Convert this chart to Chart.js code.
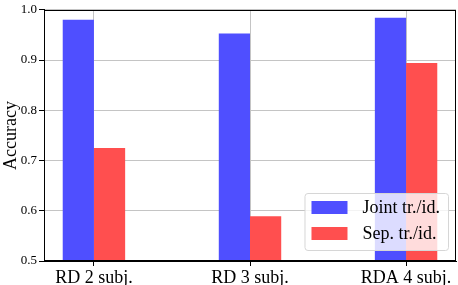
<!DOCTYPE html>
<html>
<head>
<meta charset="utf-8">
<script src="https://cdn.jsdelivr.net/npm/chart.js@4/dist/chart.umd.min.js"></script>
<style>
  html, body { margin: 0; padding: 0; background: #ffffff; }
  #wrap { position: relative; width: 458px; height: 285px; }
</style>
</head>
<body>
<div id="wrap"><canvas id="c" width="458" height="285"></canvas></div>
<script>
const categories = ["RD 2 subj.", "RD 3 subj.", "RDA 4 subj."];
const seriesNames = ["Joint tr./id.", "Sep. tr./id."];
const jointValues = [0.980, 0.953, 0.984];
const sepValues = [0.725, 0.589, 0.894];
const yTicks = [0.5, 0.6, 0.7, 0.8, 0.9, 1.0];

const SERIF = "'Liberation Serif', 'DejaVu Serif', serif";

const toPoints = (vals) => vals.map((v, i) => ({ x: i, y: v }));

const frameAndLegend = {
  id: 'frameAndLegend',
  afterDraw(chart) {
    const ctx = chart.ctx;
    const a = chart.chartArea;
    ctx.save();
    // frame (spines)
    ctx.strokeStyle = '#000000';
    ctx.lineWidth = 1;
    ctx.strokeRect(Math.round(a.left) + 0.5, Math.round(a.top) + 0.5,
                   Math.round(a.right - a.left) - 1, Math.round(a.bottom - a.top) - 1);
    // legend in lower right
    ctx.font = "18px " + SERIF;
    const items = chart.data.datasets;
    let tw = 0;
    items.forEach(d => { tw = Math.max(tw, ctx.measureText(d.label).width); });
    const padL = 7, sw = 36, sh = 13, gap = 15, padR = 8, rowH = 26, padT = 8;
    const w = padL + sw + gap + tw + padR;
    const h = padT + rowH * items.length - 3;
    const x = a.right - 8 - w;
    const y = a.bottom - 11 - h;
    ctx.beginPath();
    ctx.roundRect(x + 0.5, y + 0.5, w, h, 3);
    ctx.fillStyle = 'rgba(255,255,255,0.8)';
    ctx.fill();
    ctx.strokeStyle = '#d6d6d6';
    ctx.lineWidth = 1;
    ctx.stroke();
    ctx.textBaseline = 'middle';
    ctx.textAlign = 'left';
    items.forEach((d, i) => {
      const cy = y + padT + sh / 2 + i * rowH;
      ctx.fillStyle = d.backgroundColor;
      ctx.fillRect(x + padL, cy - sh / 2, sw, sh);
      ctx.fillStyle = '#000000';
      ctx.fillText(d.label, x + padL + sw + gap, cy + 1);
    });
    ctx.restore();
  }
};

new Chart(document.getElementById('c'), {
  type: 'bar',
  data: {
    datasets: [
      { label: seriesNames[0], data: toPoints(jointValues), backgroundColor: '#4f4fff' },
      { label: seriesNames[1], data: toPoints(sepValues), backgroundColor: '#ff4f4f' }
    ]
  },
  options: {
    responsive: false,
    animation: false,
    devicePixelRatio: 1,
    layout: { padding: { top: 5, right: 2, left: 0, bottom: 0 } },
    datasets: { bar: { categoryPercentage: 0.4, barPercentage: 1.0, clip: 0 } },
    plugins: { legend: { display: false }, tooltip: { enabled: false } },
    scales: {
      x: {
        type: 'linear',
        min: -0.32,
        max: 2.32,
        offset: false,
        z: 1,
        afterBuildTicks: (s) => { s.ticks = categories.map((_, i) => ({ value: i })); },
        afterFit: (s) => { s.height = 24; },
        ticks: {
          callback: (v) => categories[v],
          color: '#000000',
          font: { family: SERIF, size: 18 },
          padding: 1,
          maxRotation: 0,
          autoSkip: false
        },
        grid: { offset: false, color: '#c4c4c4', lineWidth: 1, tickColor: '#000000', tickLength: 5 },
        border: { display: true, color: '#000000' }
      },
      y: {
        min: 0.5,
        max: 1.0,
        z: 1,
        afterBuildTicks: (s) => { s.ticks = yTicks.map(v => ({ value: v })); },
        afterFit: (s) => { s.width = 44; },
        ticks: {
          callback: (v) => v.toFixed(1),
          color: '#000000',
          font: { family: SERIF, size: 13 },
          padding: 2
        },
        grid: { color: '#c4c4c4', lineWidth: 1, tickColor: '#000000', tickLength: 5 },
        border: { display: true, color: '#000000' },
        title: {
          display: true,
          text: 'Accuracy',
          color: '#000000',
          font: { family: SERIF, size: 18 },
          padding: 0
        }
      }
    }
  },
  plugins: [frameAndLegend]
});
</script>
</body>
</html>
